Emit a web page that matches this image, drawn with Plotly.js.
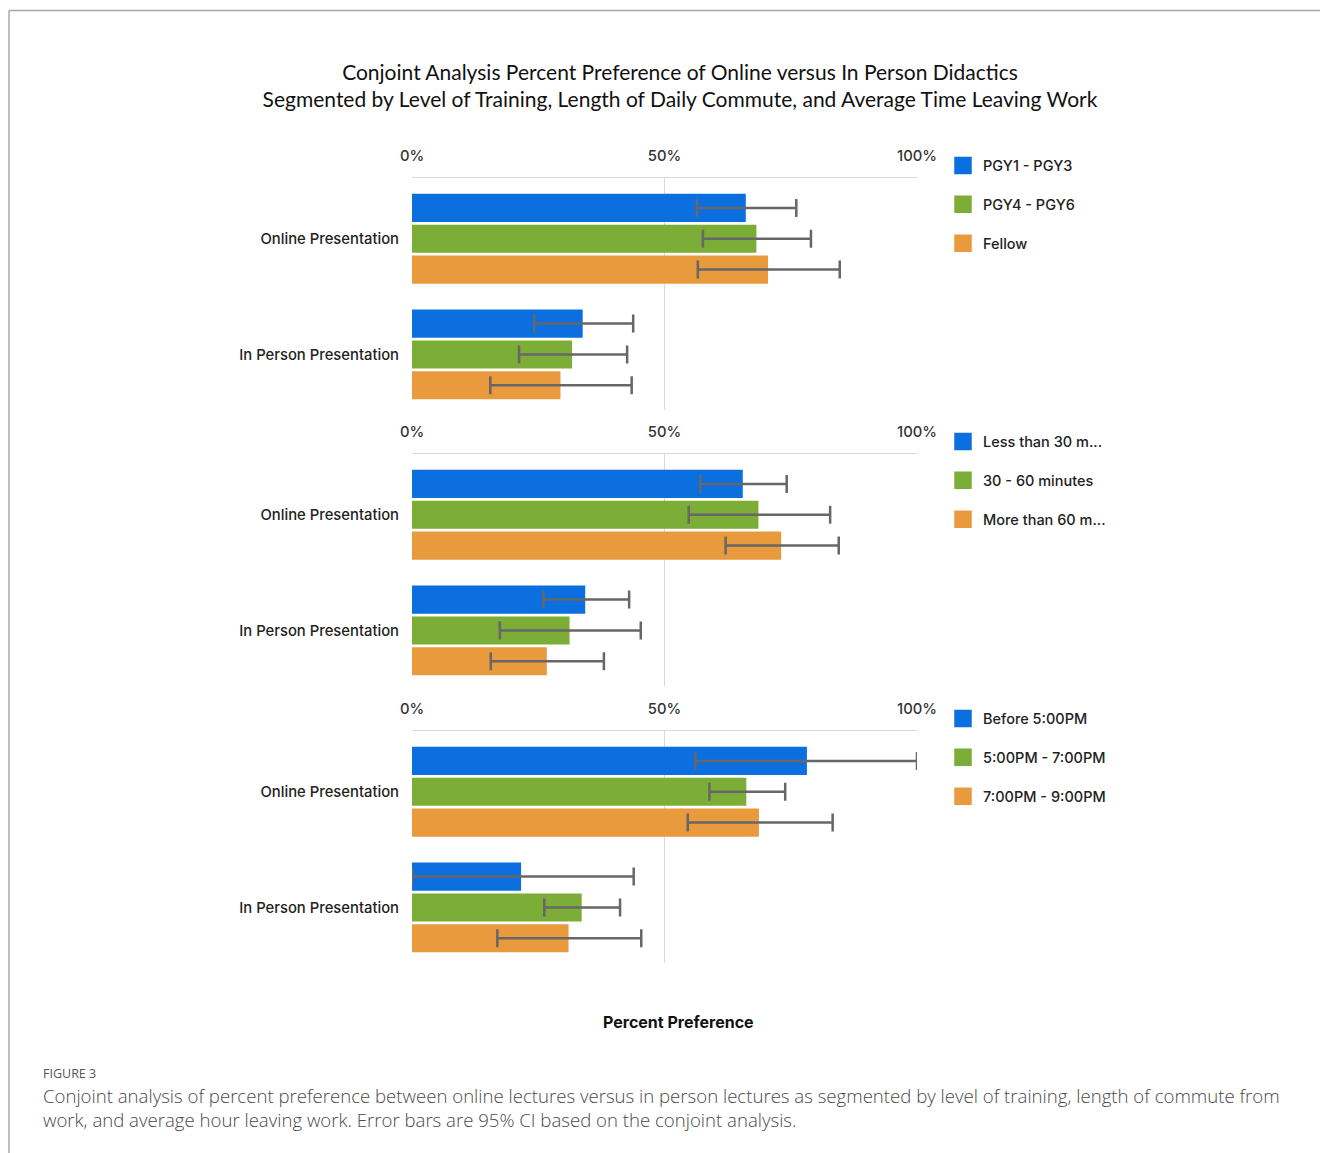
<!DOCTYPE html>
<html>
<head>
<meta charset="utf-8">
<script src="https://cdn.plot.ly/plotly-3.0.1.min.js"></script>
<style>
  html, body { margin: 0; padding: 0; background: #fff; }
  #chart { width: 1320px; height: 1153px; }
</style>
</head>
<body>
<div id="chart"></div>
<script>
// ---------- DATA ----------
const categories = ['Online Presentation', 'In Person Presentation'];
const tickValues = [0, 50, 100];
const tickLabels = ['0%', '50%', '100%'];

const trainingNames = ['PGY1 - PGY3', 'PGY4 - PGY6', 'Fellow'];
const trainingMean  = [[66.1, 33.8], [68.2, 31.7], [70.5, 29.4]];
const trainingLow   = [[56.4, 24.2], [57.6, 21.2], [56.6, 15.5]];
const trainingHigh  = [[76.1, 43.8], [79.0, 42.6], [84.7, 43.5]];

const commuteNames = ['Less than 30 m...', '30 - 60 minutes', 'More than 60 m...'];
const commuteMean  = [[65.5, 34.3], [68.6, 31.2], [73.1, 26.7]];
const commuteLow   = [[57.1, 26.0], [54.8, 17.4], [62.1, 15.6]];
const commuteHigh  = [[74.2, 43.0], [82.8, 45.3], [84.5, 38.0]];

const leavingNames = ['Before 5:00PM', '5:00PM - 7:00PM', '7:00PM - 9:00PM'];
const leavingMean  = [[78.2, 21.6], [66.2, 33.6], [68.7, 31.0]];
const leavingLow   = [[56.1, 0.0], [58.9, 26.2], [54.6, 16.9]];
const leavingHigh  = [[100.0, 43.9], [73.9, 41.2], [83.3, 45.4]];

const seriesColors = ['#0b6fe0', '#7bad37', '#e99a3c'];

// ---------- BUILD ----------
const W = 1320, H = 1153;
const px = v => v / W;
const py = v => 1 - v / H;

const panels = [
  { names: trainingNames, mean: trainingMean, low: trainingLow, high: trainingHigh, top: 178, legendTop: 149.5 },
  { names: commuteNames,  mean: commuteMean,  low: commuteLow,  high: commuteHigh,  top: 454, legendTop: 425.5 },
  { names: leavingNames,  mean: leavingMean,  low: leavingLow,  high: leavingHigh,  top: 731, legendTop: 702.5 }
];
const panelHeight = 232;

const uiFont = 'Inter, "Noto Sans", sans-serif';
const labelFont = { family: uiFont, size: 14.8, color: '#222', weight: 500 };

const traces = [];
const layout = {
  width: W, height: H,
  margin: { l: 0, r: 0, t: 0, b: 0 },
  paper_bgcolor: '#ffffff',
  plot_bgcolor: '#ffffff',
  barmode: 'group',
  bargap: 0.2,
  bargroupgap: 0.09,
  showlegend: true,
  title: {
    text: 'Conjoint Analysis Percent Preference of Online versus In Person Didactics<br>Segmented by Level of Training, Length of Daily Commute, and Average Time Leaving Work',
    font: { family: 'Lato, "Open Sans", sans-serif', size: 21, color: '#111' },
    x: 680 / W, xanchor: 'center', xref: 'paper',
    y: 1 - 80 / H, yanchor: 'top', yref: 'container'
  },
  annotations: [
    { text: '<b>Percent Preference</b>', xref: 'paper', yref: 'paper', x: px(678), y: py(1022),
      xanchor: 'center', yanchor: 'middle', showarrow: false,
      font: { family: uiFont, size: 16, color: '#111' } },
    { text: 'FIGURE 3', xref: 'paper', yref: 'paper', x: px(41), y: py(1073),
      xanchor: 'left', yanchor: 'middle', showarrow: false,
      font: { family: '"Open Sans", sans-serif', size: 12.5, color: '#555' } },
    { text: 'Conjoint analysis of percent preference between online lectures versus in person lectures as segmented by level of training, length of commute from',
      xref: 'paper', yref: 'paper', x: px(41), y: py(1095.5),
      xanchor: 'left', yanchor: 'middle', showarrow: false,
      font: { family: '"Open Sans", sans-serif', size: 18.6, color: '#4a4a4a', weight: 300 } },
    { text: 'work, and average hour leaving work. Error bars are 95% CI based on the conjoint analysis.',
      xref: 'paper', yref: 'paper', x: px(41), y: py(1119.5),
      xanchor: 'left', yanchor: 'middle', showarrow: false,
      font: { family: '"Open Sans", sans-serif', size: 18.6, color: '#4a4a4a', weight: 300 } }
  ],
  shapes: [
    { type: 'line', xref: 'paper', yref: 'paper', x0: px(9), x1: 1, y0: py(10.5), y1: py(10.5), line: { color: '#a8a8a8', width: 1.5 } },
    { type: 'line', xref: 'paper', yref: 'paper', x0: px(9), x1: px(9), y0: py(10.5), y1: 0, line: { color: '#a8a8a8', width: 1.5 } }
  ]
};

panels.forEach((p, i) => {
  const sfx = i === 0 ? '' : String(i + 1);
  const xName = 'x' + sfx, yName = 'y' + sfx;
  const legName = 'legend' + sfx;
  p.names.forEach((name, s) => {
    // bars with 95% CI error bars
    traces.push({
      type: 'bar',
      orientation: 'h',
      name: name,
      x: p.mean[s],
      y: categories,
      xaxis: xName, yaxis: yName,
      showlegend: false,
      marker: { color: seriesColors[s], line: { width: 0 } },
      error_x: {
        type: 'data', symmetric: false,
        array: p.high[s].map((h, k) => h - p.mean[s][k]),
        arrayminus: p.mean[s].map((m, k) => m - p.low[s][k]),
        color: '#676767', thickness: 2.5, width: 9
      },
      hoverinfo: 'x+name'
    });
    // legend entry (larger square swatch)
    traces.push({
      type: 'scatter',
      mode: 'markers',
      name: name,
      x: [null], y: [null],
      xaxis: xName, yaxis: yName,
      legend: legName,
      legendgroup: 'g' + i + '_' + s,
      marker: { symbol: 'square', size: 15, color: seriesColors[s], line: { width: 2.5, color: seriesColors[s] } },
      hoverinfo: 'skip'
    });
  });
  layout['xaxis' + sfx] = {
    domain: [px(412), px(917)],
    anchor: yName,
    side: 'top',
    range: [0, 100],
    tickvals: tickValues,
    ticktext: tickLabels,
    ticks: '',
    ticklabelstandoff: 10,
    tickfont: { family: uiFont, size: 14.8, color: '#333', weight: 500 },
    showgrid: true, gridcolor: '#d9d9d9', gridwidth: 1.5,
    zeroline: false,
    showline: true, linecolor: '#d9d9d9', linewidth: 1.5,
    fixedrange: true
  };
  layout['yaxis' + sfx] = {
    domain: [py(p.top + panelHeight), py(p.top)],
    anchor: xName,
    type: 'category',
    categoryorder: 'array',
    categoryarray: categories,
    range: [1.48, -0.525],
    ticks: '',
    ticklabelstandoff: 12,
    tickfont: labelFont,
    showgrid: false, zeroline: false, showline: false,
    fixedrange: true
  };
  layout[legName] = {
    x: px(943), xanchor: 'left',
    y: py(p.legendTop), yanchor: 'top',
    orientation: 'v',
    traceorder: 'grouped',
    tracegroupgap: 17,
    bgcolor: 'rgba(0,0,0,0)',
    font: { family: uiFont, size: 14.5, color: '#222', weight: 500 },
    itemwidth: 30
  };
});

Plotly.newPlot('chart', traces, layout, { displayModeBar: false, staticPlot: true });
</script>
</body>
</html>
